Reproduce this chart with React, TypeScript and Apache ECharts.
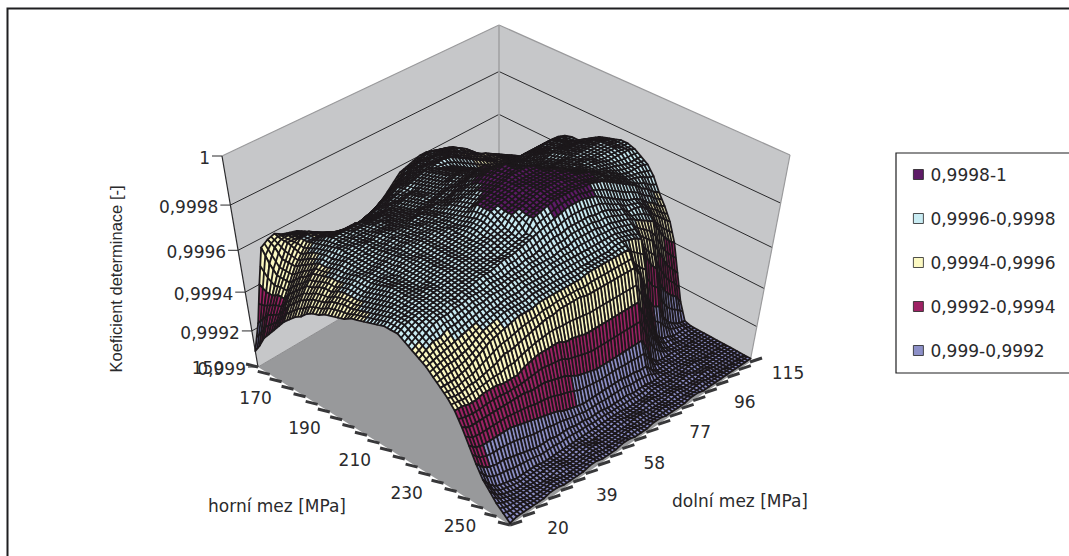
import React, { useEffect, useRef } from "react";
import * as echarts from "echarts";

// Horizontal categories of the surface
const horniMez = Array.from({ length: 41 }, (_, i) => 150 + i * 2.5);
const dolniMez = Array.from({ length: 39 }, (_, j) => 20 + j * 2.5);
const horniLabels = ["150", "170", "190", "210", "230", "250"];
const dolniLabels = ["20", "39", "58", "77", "96", "115"];
const valueLabels = ["0,999", "0,9992", "0,9994", "0,9996", "0,9998", "1"];
const bandNames = ["0,9998-1", "0,9996-0,9998", "0,9994-0,9996", "0,9992-0,9994", "0,999-0,9992"];
const bandColors = ["#5e1b67", "#c9ecf3", "#fcf9c2", "#9e2264", "#8d90c8"];
const bandLower = [80, 60, 40, 20, 0];

// Koeficient determinace, as (value - 0.999) in units of 0.00001.
// One row per horní mez, one column per dolní mez.
const determination: number[][] = [
[9,22,40,56,58,59,57,56,55,53,51,48,46,44,42,41,42,43,44,46,48,51,54,57,58,59,60,60,59,58,57,54,52,49,46,44,42,40,38],
[14,26,38,50,56,58,58,57,56,54,52,50,48,47,46,46,47,48,49,51,53,55,57,60,60,61,62,62,61,60,59,56,54,51,48,46,44,42,40],
[20,30,38,46,52,58,58,58,58,56,54,52,51,50,50,50,51,52,54,56,57,59,61,62,63,63,63,63,62,61,60,58,55,52,50,48,46,44,42],
[24,32,40,46,52,57,60,60,59,57,56,54,53,53,53,54,55,56,58,60,61,62,63,64,64,65,65,64,63,61,59,57,55,54,52,50,48,46,44],
[28,34,40,46,52,56,60,60,60,58,57,55,55,56,57,58,59,60,61,63,63,64,65,66,66,66,66,65,62,60,58,56,55,53,52,50,48,46,45],
[32,38,44,49,54,58,61,62,62,61,60,59,59,60,60,61,61,62,63,64,65,66,67,67,68,68,67,65,63,61,59,57,55,53,52,51,50,49,48],
[36,42,47,52,56,60,62,64,63,63,63,63,62,62,62,62,63,63,64,64,66,67,68,68,67,66,64,62,60,58,56,55,54,53,53,52,52,52,52],
[39,45,50,54,58,61,63,65,65,65,65,65,64,64,64,64,64,65,66,66,67,68,69,69,68,67,65,63,61,60,58,57,56,56,56,56,56,56,55],
[42,48,53,57,60,62,64,65,65,66,66,66,66,66,65,65,65,66,67,67,68,69,70,70,69,68,66,64,62,61,60,60,60,60,60,60,60,60,60],
[44,50,54,58,60,62,65,65,66,66,66,67,67,66,66,66,66,67,68,68,69,70,71,71,70,69,67,65,63,62,62,62,62,63,63,63,63,63,63],
[47,52,56,59,61,63,65,66,66,66,67,67,67,67,67,67,67,68,68,69,70,72,73,73,71,70,68,66,64,63,63,64,64,65,65,66,66,65,65],
[49,53,57,60,62,64,65,66,67,67,68,68,68,68,68,68,69,69,70,71,72,73,74,75,73,71,69,67,66,65,65,66,67,67,67,67,67,66,66],
[50,54,57,60,62,64,65,66,67,67,68,69,69,69,70,70,70,71,71,72,74,75,76,77,75,73,71,69,68,67,67,68,69,69,68,68,68,67,66],
[52,56,59,61,63,64,65,66,67,68,69,69,70,70,70,71,71,72,73,75,76,78,79,80,77,74,72,70,69,69,69,70,71,72,70,70,70,69,68],
[53,57,60,62,64,64,65,66,68,68,69,70,70,71,71,72,72,74,75,77,78,80,81,81,79,76,74,72,71,71,71,72,73,73,72,72,71,71,70],
[54,58,60,62,64,65,66,67,68,69,70,70,71,71,72,72,73,75,77,78,80,82,83,83,81,78,76,74,73,73,73,73,74,74,74,74,73,72,72],
[55,58,60,62,64,65,66,67,69,69,70,71,71,72,72,73,74,76,78,80,81,83,84,85,83,80,78,76,75,74,74,74,75,75,75,75,75,74,73],
[57,59,61,63,65,66,66,68,69,69,70,71,71,72,73,73,75,77,79,81,82,83,84,85,84,82,79,78,77,76,76,76,76,76,76,76,76,75,74],
[58,60,62,64,66,66,67,68,69,70,70,71,71,72,73,74,76,80,81,82,83,84,85,85,85,84,82,79,78,77,77,77,76,76,76,76,76,75,75],
[59,61,63,65,67,67,67,68,69,70,70,71,71,72,73,75,77,80,81,82,83,84,84,84,84,84,83,81,79,78,78,77,77,76,76,76,76,75,75],
[60,62,64,66,67,67,67,68,69,70,70,71,71,72,73,75,77,80,81,82,83,84,84,84,84,84,84,83,80,79,78,77,77,76,75,75,75,75,74],
[61,63,65,66,67,67,67,68,69,70,70,71,71,72,73,74,76,78,80,81,82,83,84,84,84,84,84,83,81,80,78,77,76,75,74,73,72,72,72],
[62,64,65,66,67,67,68,68,69,70,70,71,71,72,73,74,75,76,80,81,82,83,84,84,84,84,83,83,82,81,79,77,76,74,72,71,71,71,70],
[62,64,65,66,67,67,68,68,69,69,70,70,71,71,72,73,74,75,78,80,81,82,83,83,83,83,83,82,81,80,79,77,75,73,71,70,69,67,66],
[62,64,65,66,66,67,67,68,68,69,69,70,70,71,71,72,73,74,75,80,81,82,83,83,83,83,82,82,81,80,78,76,74,72,70,67,65,62,60],
[60,62,64,65,66,66,67,67,68,68,69,70,70,71,72,72,73,74,75,76,77,78,79,80,80,80,79,78,76,74,72,70,68,67,65,62,60,57,55],
[58,60,62,64,65,65,66,66,67,67,67,68,68,68,69,69,70,70,71,72,73,73,74,74,74,74,73,73,72,70,69,66,66,65,62,58,55,52,49],
[56,58,60,60,62,62,63,64,65,65,66,66,66,67,67,67,68,68,68,68,69,69,70,70,70,70,69,69,68,67,66,64,62,60,58,52,47,43,40],
[54,55,56,57,58,59,60,61,62,63,63,64,64,64,65,65,65,65,66,66,66,66,66,66,66,66,66,66,65,64,63,58,55,52,46,40,34,30,26],
[51,52,53,53,54,55,57,59,60,61,62,62,62,62,63,63,63,63,63,63,63,63,63,63,63,63,64,64,63,62,60,50,44,40,30,24,20,17,12],
[48,48,48,49,50,52,54,56,57,58,59,60,60,60,61,61,61,61,61,61,61,62,62,62,62,62,62,62,54,50,47,30,24,22,14,9,6,4,3],
[45,44,44,45,45,46,47,48,50,50,51,52,53,54,55,55,56,56,56,56,55,55,55,55,55,55,55,55,50,40,30,18,10,6,5,3,3,3,2],
[41,41,40,40,41,41,41,40,40,40,42,43,44,44,44,44,42,42,41,40,40,40,40,40,40,40,40,40,32,24,16,10,5,3,3,2,2,2,2],
[35,33,33,33,33,33,33,33,33,33,32,32,32,31,30,29,27,25,24,23,22,22,22,22,22,22,22,22,16,8,4,3,3,3,2,2,2,2,2],
[28,25,24,24,24,24,24,23,22,21,20,19,18,17,15,14,13,12,12,12,12,12,12,12,11,11,10,10,6,3,3,3,2,2,2,2,2,2,2],
[21,17,15,14,14,13,12,11,10,9,9,9,8,8,8,7,7,6,6,6,5,5,5,5,4,4,4,3,3,3,2,2,2,2,2,2,2,2,2],
[15,10,7,6,5,4,4,4,4,3,3,3,3,3,3,3,3,3,3,3,3,3,2,2,2,2,3,3,2,2,2,2,3,3,2,2,2,2,2],
[11,7,5,4,3,3,3,3,3,3,3,2,2,3,3,2,2,2,2,3,3,2,2,2,3,3,2,2,2,2,3,3,2,2,2,2,2,2,2],
[7,5,4,3,3,3,2,2,2,3,3,2,2,2,3,3,2,2,2,2,2,3,3,2,2,2,2,3,3,2,2,2,3,3,2,2,2,2,2],
[4,3,3,3,2,2,2,3,3,2,2,2,2,3,3,2,2,2,2,3,3,2,2,2,3,3,2,2,2,2,3,3,2,2,2,2,2,2,2],
[1,2,2,2,2,2,3,3,2,2,2,2,3,3,2,2,2,3,3,2,2,2,3,3,2,2,2,2,3,3,2,2,2,2,2,2,2,2,2],
];

type P = [number, number];
const quadMap = (p00: P, p10: P, p11: P, p01: P) => {
  const dx1 = p10[0] - p11[0], dx2 = p01[0] - p11[0], sx = p00[0] - p10[0] + p11[0] - p01[0];
  const dy1 = p10[1] - p11[1], dy2 = p01[1] - p11[1], sy = p00[1] - p10[1] + p11[1] - p01[1];
  const den = dx1 * dy2 - dx2 * dy1;
  const g = (sx * dy2 - dx2 * sy) / den, h = (dx1 * sy - sx * dy1) / den;
  const a = p10[0] - p00[0] + g * p10[0], b = p01[0] - p00[0] + h * p01[0], c = p00[0];
  const d = p10[1] - p00[1] + g * p10[1], e = p01[1] - p00[1] + h * p01[1], f = p00[1];
  return (s: number, t: number): P => {
    const q = g * s + h * t + 1;
    return [(a * s + b * t + c) / q, (d * s + e * t + f) / q];
  };
};
// The view of the box: floor and ceiling, corners (horní low, dolní low), (high, low), (high, high), (low, high)
const floorAt = quadMap([258, 367], [510, 525], [750, 362], [499, 225]);
const ceilAt = quadMap([222, 156], [512, 300], [790, 155], [499, 25]);
const PERSPECTIVE = 0.825;
const project = (u: number, v: number, w: number): P => {
  const b = floorAt(u, v), t = ceilAt(u, v);
  const f = (PERSPECTIVE * w) / (1 + (PERSPECTIVE - 1) * w);
  return [b[0] + (t[0] - b[0]) * f, b[1] + (t[1] - b[1]) * f];
};

const U = (h: number) => (h - 150) / 100;
const V = (d: number) => (d - 20) / 95;
const W = (i: number) => determination[i];

const cellsOfBand = (band: number) => {
  const out: number[][] = [];
  for (let i = 0; i < horniMez.length - 1; i++) {
    for (let j = 0; j < dolniMez.length - 1; j++) {
      const mean = (W(i)[j] + W(i + 1)[j] + W(i + 1)[j + 1] + W(i)[j + 1]) / 4;
      const b = bandLower.findIndex((l) => mean >= l);
      if (b === band) out.push([i, j]);
    }
  }
  return out;
};

const WIRE = "#1c181b";
const WIRE_WIDTH = 1.8;
const line = (api: any, a: P, b: P, stroke: string, lineWidth: number) => {
  const p = api.coord(a), q = api.coord(b);
  return { type: "line", shape: { x1: p[0], y1: p[1], x2: q[0], y2: q[1] }, style: { stroke, lineWidth }, silent: true };
};

const renderBox = (_: any, api: any) => {
  const poly = (pts: P[], fill: string) => ({ type: "polygon", shape: { points: pts.map((p) => api.coord(p)) }, style: { fill }, silent: true });
  const L = project(0, 0, 0), B = project(0, 1, 0), R = project(1, 1, 0), F = project(1, 0, 0);
  const Lt = project(0, 0, 1), Bt = project(0, 1, 1), Rt = project(1, 1, 1);
  const children: any[] = [
    poly([L, B, R, F], "#98999b"),
    poly([L, B, Bt, Lt], "#c6c7c9"),
    poly([B, R, Rt, Bt], "#c6c7c9"),
  ];
  valueLabels.forEach((_t, k) => {
    const w = k / 5;
    if (k > 0 && k < 5) {
      children.push(line(api, project(0, 0, w), project(0, 1, w), "#2a2a2c", 1));
      children.push(line(api, project(0, 1, w), project(1, 1, w), "#2a2a2c", 1));
    }
    const p = project(0, 0, w);
    children.push(line(api, p, [p[0] - 10, p[1]], "#2a2a2c", 1));
  });
  children.push(line(api, Lt, Bt, "#9a9a9c", 1.2));
  children.push(line(api, Bt, Rt, "#9a9a9c", 1.2));
  children.push(line(api, B, Bt, "#a2a2a4", 1.6));
  children.push(line(api, R, Rt, "#9a9a9c", 1.2));
  children.push(line(api, L, B, "#8d8d8f", 1));
  children.push(line(api, L, Lt, "#2a2a2c", 1.2));
  return { type: "group", children, silent: true };
};

const renderCell = (band: number) => (_: any, api: any) => {
  const i = api.value(0), j = api.value(1);
  const corners: [number, number][] = [[i, j], [i + 1, j], [i + 1, j + 1], [i, j + 1]];
  const points: P[] = corners.map(([a, b]) => api.coord(project(U(horniMez[a]), V(dolniMez[b]), W(a)[b] / 100)));
  const z2 = i * 40 + (38 - j);
  const mid = (a: P, b: P): P => [(a[0] + b[0]) / 2, (a[1] + b[1]) / 2];
  const wire = (a: P, b: P) => ({
    type: "line",
    z2,
    shape: { x1: a[0], y1: a[1], x2: b[0], y2: b[1] },
    style: { stroke: WIRE, lineWidth: WIRE_WIDTH },
    silent: true,
  });
  return {
    type: "group",
    silent: true,
    children: [
      { type: "polygon", z2, shape: { points }, style: { fill: bandColors[band], stroke: WIRE, lineWidth: WIRE_WIDTH, lineJoin: "round" }, silent: true },
      wire(mid(points[0], points[1]), mid(points[3], points[2])),
      wire(mid(points[0], points[3]), mid(points[1], points[2])),
    ],
  };
};

const renderTicks = (_: any, api: any) => {
  const children: any[] = [];
  for (let k = 0; k <= 20; k++) {
    const u = k / 20;
    const p = project(u, 0, 0);
    children.push(line(api, p, [p[0] - 12, p[1] - 3], "#38383a", 3));
    const q = project(1, u, 0);
    children.push(line(api, q, [q[0] + 12, q[1] - 4], "#38383a", 3));
  }
  return { type: "group", children, silent: true };
};

const FONT = "'DejaVu Sans'";
const TEXT = "#2a2a2c";
const label = (text: string, x: number, y: number, align = "center", size = 17, family = FONT, rotation = 0) => ({
  type: "text",
  z: 20,
  x,
  y,
  rotation,
  silent: true,
  style: { text, fill: TEXT, font: `${size}px ${family}`, textAlign: align, textVerticalAlign: "middle" },
});

export default function App() {
  const ref = useRef<HTMLDivElement>(null);
  useEffect(() => {
    document.body.style.margin = "0";
    document.body.style.overflow = "hidden";
    const chart = echarts.init(ref.current!, undefined, { renderer: "svg" });
    const graphicTexts: any[] = [
      ...horniLabels.map((t) => {
        const p = project(U(Number(t)), 0, 0);
        return label(t, p[0] - 50, p[1] + 1);
      }),
      ...dolniLabels.map((t) => {
        const v = V(Number(t));
        const p = project(1, v, 0);
        return label(t, p[0] + 48 - 10 * v, p[1] + 3 + 8 * v);
      }),
      ...valueLabels.map((t, k) => {
        const p = project(0, 0, k / 5);
        return label(t, p[0] - 12, p[1] + 2, "right");
      }),
      label("horní mez [MPa]", 277, 506),
      label("dolní mez [MPa]", 740, 501),
      label("Koeficient determinace [-]", 116, 279, "center", 16.5, "'Liberation Sans'", Math.PI / 2),
      {
        type: "rect",
        z: -1,
        silent: true,
        shape: { x: 7.5, y: 8.5, width: 1100, height: 600 },
        style: { fill: "none", stroke: "#1f1f21", lineWidth: 2 },
      },
    ];
    chart.setOption({
      animation: false,
      backgroundColor: "#ffffff",
      grid: { left: 0, top: 0, right: 0, bottom: 0 },
      xAxis: { type: "value", min: 0, max: 1069, show: false },
      yAxis: { type: "value", min: 0, max: 556, inverse: true, show: false },
      tooltip: { show: false },
      legend: {
        show: true,
        selectedMode: false,
        left: 896,
        top: 153,
        orient: "vertical",
        data: bandNames,
        icon: "rect",
        itemWidth: 10,
        itemHeight: 10,
        itemGap: 27,
        padding: [13, 40, 14, 17],
        borderColor: "#1f1f21",
        borderWidth: 1.2,
        backgroundColor: "#ffffff",
        itemStyle: { borderColor: "#222222", borderWidth: 0.8 },
        textStyle: { fontFamily: FONT, fontSize: 17, color: TEXT, padding: [0, 0, 0, 2] },
      },
      graphic: { elements: graphicTexts },
      series: [
        { type: "custom", name: "box", z: 1, clip: false, coordinateSystem: "cartesian2d", data: [[0, 0]], renderItem: renderBox, silent: true },
        ...bandNames.map((name, band) => ({
          type: "custom",
          name,
          z: 2,
          clip: false,
          progressive: 0,
          coordinateSystem: "cartesian2d",
          itemStyle: { color: bandColors[band] },
          data: cellsOfBand(band),
          renderItem: renderCell(band),
          silent: true,
        })),
        { type: "custom", name: "ticks", z: 1, clip: false, coordinateSystem: "cartesian2d", data: [[0, 0]], renderItem: renderTicks, silent: true },
      ],
    });
    return () => chart.dispose();
  }, []);
  return <div ref={ref} style={{ width: 1069, height: 556 }} />;
}
